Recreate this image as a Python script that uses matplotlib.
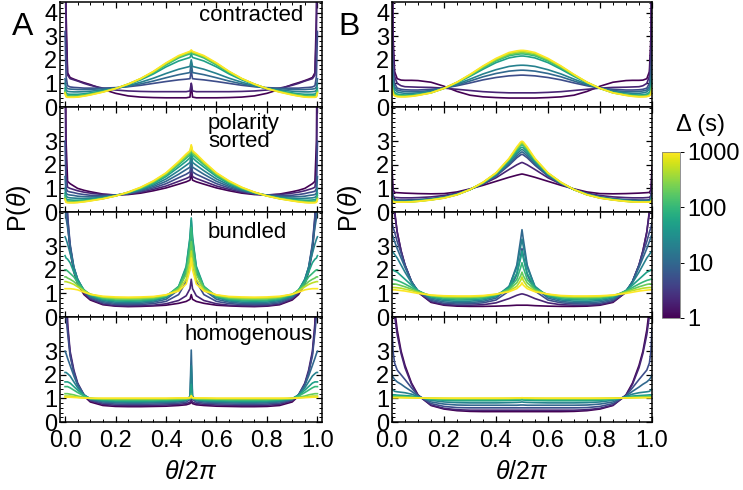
import numpy as np
import matplotlib
matplotlib.use('Agg')
import matplotlib.pyplot as plt
from matplotlib.colors import LogNorm
from matplotlib.cm import ScalarMappable
from matplotlib.ticker import MultipleLocator, FormatStrFormatter

plt.rcParams['font.family'] = ['Liberation Sans', 'DejaVu Sans']
plt.rcParams['mathtext.fontset'] = 'custom'
plt.rcParams['mathtext.rm'] = 'Liberation Sans'
plt.rcParams['mathtext.it'] = 'Liberation Sans:italic'

# lag times (s), one curve per value
delta = [1, 2, 5, 10, 20, 50, 100, 200, 500, 1000]

# theta/2pi from 0 to 0.5, curves are symmetric about 0.5
theta_half = [0.0, 0.004, 0.01, 0.02, 0.035, 0.05, 0.075, 0.1, 0.15, 0.2,
              0.25, 0.3, 0.35, 0.4, 0.45, 0.48, 0.495, 0.5]

# ---- column A ----
A_contracted = [
    [9, 4.0, 1.45, 1.25, 1.18, 1.12, 1.03, 0.95, 0.75, 0.58, 0.47, 0.42, 0.40, 0.39, 0.39, 0.39, 0.42, 1.0],
    [9, 3.2, 1.35, 1.2, 1.15, 1.1, 1.0, 0.92, 0.8, 0.72, 0.68, 0.66, 0.65, 0.65, 0.65, 0.65, 0.68, 1.0],
    [3.2, 1.3, 0.9, 0.85, 0.83, 0.82, 0.8, 0.8, 0.8, 0.82, 0.86, 0.92, 1.0, 1.08, 1.15, 1.18, 1.2, 1.55],
    [1.2, 0.85, 0.78, 0.76, 0.75, 0.74, 0.74, 0.75, 0.77, 0.8, 0.88, 0.98, 1.1, 1.24, 1.37, 1.43, 1.46, 1.9],
    [1.0, 0.72, 0.66, 0.65, 0.64, 0.64, 0.65, 0.67, 0.72, 0.78, 0.9, 1.05, 1.22, 1.42, 1.6, 1.68, 1.72, 2.0],
    [0.8, 0.6, 0.55, 0.54, 0.54, 0.54, 0.56, 0.6, 0.68, 0.78, 0.95, 1.15, 1.4, 1.7, 1.95, 2.05, 2.1, 2.25],
    [0.7, 0.52, 0.48, 0.47, 0.47, 0.48, 0.51, 0.55, 0.66, 0.78, 0.96, 1.18, 1.45, 1.78, 2.08, 2.2, 2.25, 2.3],
    [0.65, 0.48, 0.45, 0.44, 0.44, 0.45, 0.49, 0.54, 0.65, 0.78, 0.97, 1.2, 1.48, 1.82, 2.12, 2.25, 2.3, 2.35],
    [0.6, 0.45, 0.42, 0.42, 0.42, 0.43, 0.47, 0.52, 0.64, 0.78, 0.97, 1.2, 1.5, 1.85, 2.15, 2.28, 2.33, 2.38],
    [0.58, 0.43, 0.41, 0.41, 0.41, 0.42, 0.46, 0.51, 0.63, 0.78, 0.97, 1.21, 1.51, 1.87, 2.18, 2.3, 2.36, 2.42],
]
A_sorted = [
    [9, 3.0, 1.3, 1.2, 1.1, 1.0, 0.92, 0.86, 0.76, 0.72, 0.74, 0.8, 0.9, 1.02, 1.18, 1.28, 1.35, 1.6],
    [6, 1.6, 1.05, 1.0, 0.95, 0.9, 0.84, 0.8, 0.74, 0.72, 0.76, 0.84, 0.96, 1.1, 1.3, 1.42, 1.5, 1.9],
    [3, 1.0, 0.88, 0.85, 0.82, 0.78, 0.74, 0.71, 0.7, 0.72, 0.78, 0.88, 1.02, 1.2, 1.45, 1.6, 1.7, 2.1],
    [1.5, 0.8, 0.74, 0.72, 0.7, 0.67, 0.65, 0.64, 0.66, 0.71, 0.79, 0.92, 1.08, 1.3, 1.6, 1.8, 1.9, 2.3],
    [1.0, 0.68, 0.62, 0.6, 0.59, 0.58, 0.57, 0.58, 0.62, 0.7, 0.8, 0.95, 1.14, 1.4, 1.75, 1.98, 2.1, 2.5],
    [0.8, 0.56, 0.52, 0.51, 0.5, 0.5, 0.51, 0.53, 0.6, 0.69, 0.82, 0.98, 1.2, 1.5, 1.9, 2.15, 2.3, 2.6],
    [0.7, 0.5, 0.46, 0.45, 0.45, 0.46, 0.48, 0.5, 0.58, 0.69, 0.83, 1.0, 1.24, 1.56, 2.0, 2.28, 2.42, 2.7],
    [0.6, 0.46, 0.43, 0.42, 0.42, 0.43, 0.46, 0.49, 0.57, 0.68, 0.83, 1.02, 1.27, 1.6, 2.06, 2.36, 2.5, 2.75],
    [0.55, 0.43, 0.41, 0.4, 0.4, 0.41, 0.44, 0.48, 0.56, 0.68, 0.84, 1.04, 1.3, 1.64, 2.1, 2.42, 2.56, 2.8],
    [0.52, 0.41, 0.39, 0.39, 0.39, 0.4, 0.43, 0.47, 0.56, 0.68, 0.84, 1.05, 1.32, 1.66, 2.14, 2.46, 2.6, 2.85],
]
A_bundled = [
    [9, 6, 4.0, 2.8, 1.9, 1.4, 0.95, 0.72, 0.52, 0.46, 0.44, 0.45, 0.47, 0.5, 0.58, 0.66, 0.75, 0.95],
    [9, 6, 4.2, 3.0, 2.0, 1.5, 1.0, 0.76, 0.55, 0.48, 0.47, 0.48, 0.5, 0.56, 0.7, 0.9, 1.2, 1.6],
    [9, 5.5, 4.3, 3.1, 2.1, 1.55, 1.05, 0.8, 0.6, 0.53, 0.52, 0.53, 0.57, 0.66, 0.95, 1.5, 2.3, 3.0],
    [5, 4.2, 3.8, 3.0, 2.1, 1.6, 1.1, 0.85, 0.65, 0.58, 0.57, 0.58, 0.63, 0.75, 1.15, 1.9, 3.0, 3.8],
    [3.4, 3.3, 3.1, 2.7, 2.1, 1.6, 1.12, 0.88, 0.7, 0.63, 0.62, 0.63, 0.68, 0.82, 1.25, 2.1, 3.3, 4.1],
    [2.6, 2.5, 2.45, 2.3, 1.9, 1.55, 1.15, 0.92, 0.74, 0.68, 0.67, 0.68, 0.72, 0.86, 1.3, 2.15, 3.4, 4.2],
    [2.0, 2.0, 1.95, 1.85, 1.7, 1.45, 1.15, 0.95, 0.78, 0.72, 0.71, 0.72, 0.76, 0.88, 1.28, 2.0, 3.1, 3.8],
    [1.7, 1.7, 1.65, 1.6, 1.5, 1.35, 1.12, 0.96, 0.82, 0.77, 0.76, 0.77, 0.8, 0.9, 1.22, 1.8, 2.7, 3.2],
    [1.5, 1.5, 1.48, 1.45, 1.38, 1.28, 1.1, 0.97, 0.85, 0.81, 0.8, 0.81, 0.84, 0.93, 1.15, 1.6, 2.3, 2.8],
    [1.2, 1.2, 1.2, 1.2, 1.18, 1.15, 1.05, 0.96, 0.88, 0.85, 0.84, 0.85, 0.87, 0.94, 1.1, 1.4, 2.0, 2.5],
]
A_homogenous = [
    [9, 6, 4.0, 2.9, 2.1, 1.6, 1.1, 0.85, 0.7, 0.66, 0.65, 0.65, 0.66, 0.67, 0.7, 0.73, 0.78, 0.85],
    [9, 6, 4.2, 3.0, 2.2, 1.65, 1.15, 0.9, 0.75, 0.71, 0.7, 0.7, 0.71, 0.72, 0.75, 0.78, 0.84, 0.95],
    [9, 4.5, 3.8, 2.8, 2.1, 1.6, 1.15, 0.93, 0.8, 0.76, 0.75, 0.75, 0.76, 0.77, 0.8, 0.84, 0.95, 1.4],
    [3.0, 2.9, 2.7, 2.4, 1.95, 1.55, 1.15, 0.96, 0.85, 0.81, 0.8, 0.8, 0.81, 0.82, 0.85, 0.9, 1.1, 3.05],
    [2.1, 2.1, 2.05, 1.95, 1.7, 1.45, 1.15, 0.98, 0.88, 0.85, 0.84, 0.84, 0.85, 0.86, 0.89, 0.93, 1.05, 2.4],
    [1.7, 1.7, 1.7, 1.65, 1.5, 1.35, 1.12, 1.0, 0.92, 0.89, 0.88, 0.88, 0.89, 0.9, 0.92, 0.95, 1.02, 1.6],
    [1.5, 1.5, 1.5, 1.45, 1.35, 1.25, 1.1, 1.0, 0.95, 0.93, 0.92, 0.92, 0.93, 0.93, 0.95, 0.97, 1.0, 1.2],
    [1.2, 1.2, 1.2, 1.18, 1.15, 1.1, 1.05, 1.0, 0.97, 0.96, 0.96, 0.96, 0.96, 0.97, 0.98, 0.99, 1.0, 1.1],
    [1.1, 1.1, 1.1, 1.1, 1.08, 1.05, 1.02, 1.0, 0.99, 0.99, 0.99, 0.99, 0.99, 0.99, 1.0, 1.0, 1.02, 1.1],
    [1.05, 1.05, 1.05, 1.05, 1.04, 1.03, 1.02, 1.01, 1.01, 1.01, 1.01, 1.01, 1.01, 1.01, 1.02, 1.02, 1.03, 1.12],
]

# ---- column B ----
B_contracted = [
    [9, 3.0, 1.5, 1.2, 1.14, 1.13, 1.13, 1.12, 1.05, 0.88, 0.66, 0.5, 0.43, 0.4, 0.38, 0.38, 0.38, 0.38],
    [9, 2.5, 1.3, 1.0, 0.9, 0.86, 0.85, 0.84, 0.83, 0.8, 0.75, 0.7, 0.65, 0.62, 0.6, 0.6, 0.6, 0.6],
    [2.8, 1.6, 1.0, 0.8, 0.75, 0.73, 0.72, 0.72, 0.75, 0.8, 0.9, 1.02, 1.15, 1.25, 1.32, 1.34, 1.35, 1.35],
    [2.0, 1.2, 0.85, 0.72, 0.68, 0.66, 0.65, 0.65, 0.7, 0.8, 0.93, 1.1, 1.28, 1.42, 1.52, 1.55, 1.56, 1.56],
    [1.5, 1.0, 0.75, 0.64, 0.6, 0.58, 0.58, 0.6, 0.66, 0.8, 0.97, 1.18, 1.4, 1.58, 1.72, 1.76, 1.77, 1.77],
    [1.2, 0.8, 0.62, 0.55, 0.52, 0.51, 0.52, 0.54, 0.62, 0.79, 1.02, 1.3, 1.6, 1.88, 2.08, 2.14, 2.16, 2.16],
    [1.0, 0.7, 0.56, 0.5, 0.48, 0.48, 0.49, 0.52, 0.61, 0.79, 1.03, 1.33, 1.66, 1.95, 2.17, 2.23, 2.25, 2.25],
    [0.9, 0.62, 0.52, 0.47, 0.46, 0.46, 0.47, 0.51, 0.6, 0.79, 1.04, 1.35, 1.69, 1.99, 2.22, 2.28, 2.3, 2.3],
    [0.8, 0.57, 0.49, 0.45, 0.44, 0.44, 0.46, 0.5, 0.6, 0.79, 1.05, 1.37, 1.72, 2.03, 2.27, 2.33, 2.35, 2.35],
    [0.75, 0.54, 0.47, 0.44, 0.43, 0.43, 0.45, 0.49, 0.6, 0.79, 1.05, 1.38, 1.74, 2.06, 2.31, 2.38, 2.4, 2.4],
]
B_sorted = [
    [1.9, 0.95, 0.83, 0.82, 0.81, 0.8, 0.79, 0.78, 0.77, 0.78, 0.85, 0.98, 1.13, 1.3, 1.47, 1.56, 1.6, 1.61],
    [1.6, 0.7, 0.62, 0.61, 0.6, 0.6, 0.6, 0.61, 0.64, 0.7, 0.8, 0.96, 1.18, 1.45, 1.8, 2.0, 2.08, 2.1],
    [1.0, 0.55, 0.52, 0.51, 0.51, 0.51, 0.52, 0.53, 0.57, 0.65, 0.77, 0.95, 1.2, 1.52, 1.98, 2.3, 2.42, 2.45],
    [0.8, 0.5, 0.48, 0.47, 0.47, 0.47, 0.48, 0.5, 0.55, 0.63, 0.76, 0.95, 1.21, 1.55, 2.04, 2.38, 2.52, 2.55],
    [0.7, 0.48, 0.46, 0.45, 0.45, 0.45, 0.46, 0.48, 0.54, 0.62, 0.75, 0.95, 1.22, 1.58, 2.1, 2.47, 2.62, 2.65],
    [0.62, 0.46, 0.45, 0.44, 0.44, 0.44, 0.45, 0.47, 0.53, 0.61, 0.74, 0.95, 1.23, 1.61, 2.16, 2.56, 2.72, 2.75],
    [0.58, 0.45, 0.44, 0.43, 0.43, 0.43, 0.44, 0.46, 0.52, 0.6, 0.74, 0.95, 1.24, 1.63, 2.2, 2.64, 2.82, 2.85],
    [0.55, 0.44, 0.43, 0.43, 0.43, 0.43, 0.44, 0.46, 0.52, 0.6, 0.73, 0.95, 1.25, 1.64, 2.23, 2.68, 2.87, 2.9],
    [0.52, 0.44, 0.43, 0.42, 0.42, 0.42, 0.43, 0.45, 0.51, 0.59, 0.73, 0.95, 1.25, 1.65, 2.25, 2.72, 2.92, 2.95],
    [0.5, 0.43, 0.42, 0.42, 0.42, 0.42, 0.43, 0.45, 0.51, 0.59, 0.73, 0.95, 1.26, 1.66, 2.27, 2.76, 2.97, 3.0],
]
B_bundled = [
    [9, 6, 4.5, 3.6, 2.8, 2.2, 1.5, 1.05, 0.62, 0.5, 0.46, 0.45, 0.45, 0.46, 0.48, 0.5, 0.5, 0.5],
    [9, 6, 4.4, 3.6, 2.8, 2.2, 1.5, 1.05, 0.65, 0.53, 0.5, 0.5, 0.52, 0.6, 0.78, 0.92, 0.97, 0.98],
    [4.0, 3.8, 3.6, 3.2, 2.7, 2.2, 1.5, 1.08, 0.7, 0.58, 0.55, 0.56, 0.6, 0.72, 1.1, 1.8, 2.6, 2.9],
    [3.5, 3.4, 3.2, 2.9, 2.5, 2.1, 1.5, 1.1, 0.75, 0.64, 0.6, 0.61, 0.66, 0.8, 1.25, 2.2, 3.3, 3.7],
    [2.8, 2.75, 2.65, 2.5, 2.2, 1.9, 1.45, 1.12, 0.8, 0.7, 0.66, 0.67, 0.72, 0.86, 1.3, 2.1, 3.0, 3.3],
    [2.0, 2.0, 1.95, 1.9, 1.75, 1.6, 1.35, 1.12, 0.85, 0.75, 0.72, 0.73, 0.77, 0.9, 1.25, 1.85, 2.5, 2.8],
    [1.6, 1.6, 1.58, 1.55, 1.48, 1.4, 1.25, 1.1, 0.88, 0.8, 0.77, 0.78, 0.82, 0.93, 1.2, 1.6, 2.1, 2.3],
    [1.4, 1.4, 1.4, 1.38, 1.33, 1.28, 1.18, 1.07, 0.9, 0.84, 0.82, 0.83, 0.86, 0.95, 1.15, 1.45, 1.75, 1.9],
    [1.25, 1.25, 1.25, 1.24, 1.22, 1.18, 1.12, 1.04, 0.92, 0.87, 0.86, 0.86, 0.88, 0.96, 1.1, 1.3, 1.55, 1.7],
    [1.15, 1.15, 1.15, 1.14, 1.12, 1.1, 1.05, 1.0, 0.93, 0.9, 0.89, 0.89, 0.91, 0.97, 1.07, 1.2, 1.35, 1.45],
]
B_homogenous = [
    [9, 6, 4.8, 3.9, 3.0, 2.4, 1.65, 1.15, 0.7, 0.55, 0.48, 0.45, 0.44, 0.44, 0.44, 0.44, 0.44, 0.44],
    [9, 5.5, 4.5, 3.7, 2.9, 2.3, 1.6, 1.12, 0.72, 0.58, 0.52, 0.5, 0.5, 0.5, 0.5, 0.5, 0.5, 0.5],
    [4.0, 3.0, 2.5, 2.2, 2.0, 1.8, 1.45, 1.12, 0.78, 0.66, 0.61, 0.6, 0.6, 0.6, 0.6, 0.6, 0.6, 0.6],
    [2.0, 1.9, 1.8, 1.7, 1.6, 1.48, 1.3, 1.1, 0.85, 0.76, 0.72, 0.71, 0.71, 0.71, 0.71, 0.71, 0.72, 0.72],
    [1.4, 1.35, 1.3, 1.28, 1.26, 1.24, 1.18, 1.08, 0.92, 0.85, 0.82, 0.81, 0.81, 0.81, 0.82, 0.83, 0.84, 0.85],
    [1.15, 1.15, 1.15, 1.14, 1.13, 1.12, 1.1, 1.05, 0.96, 0.92, 0.9, 0.9, 0.9, 0.9, 0.91, 0.92, 0.93, 0.94],
    [1.1, 1.1, 1.1, 1.09, 1.08, 1.07, 1.06, 1.03, 0.98, 0.96, 0.95, 0.95, 0.95, 0.95, 0.96, 0.97, 0.98, 0.99],
    [1.06, 1.06, 1.06, 1.06, 1.05, 1.05, 1.04, 1.02, 1.0, 0.99, 0.98, 0.98, 0.98, 0.98, 0.99, 0.99, 1.0, 1.01],
    [1.04, 1.04, 1.04, 1.04, 1.04, 1.03, 1.03, 1.02, 1.01, 1.0, 1.0, 1.0, 1.0, 1.0, 1.0, 1.01, 1.01, 1.02],
    [1.03, 1.03, 1.03, 1.03, 1.03, 1.03, 1.02, 1.02, 1.01, 1.01, 1.01, 1.01, 1.01, 1.01, 1.01, 1.02, 1.02, 1.03],
]

panel_names = ['contracted', 'polarity\nsorted', 'bundled', 'homogenous']
colA = [A_contracted, A_sorted, A_bundled, A_homogenous]
colB = [B_contracted, B_sorted, B_bundled, B_homogenous]


def mirror(vals):
    # the distribution is symmetric in theta <-> 2pi - theta
    return list(vals) + list(vals[::-1][1:])


theta_full = theta_half + [1 - t for t in theta_half[::-1][1:]]

norm = LogNorm(vmin=1, vmax=1000)
cmap = plt.cm.viridis

W, H = 743.0, 490.0
fig = plt.figure(figsize=(W / 100, H / 100), dpi=100)

row_tops = [2, 107, 212, 317]
row_h = 105
col_x = [(60, 322), (392, 652)]
xlims = [(-0.02, 1.018), (0.0, 1.0)]

# label positions inside each panel (axes fraction), per row
name_pos = [(0.927, 0.876, 'right', 'center'),
            (0.565, 0.945, 'left', 'top'),
            (0.565, 0.80, 'left', 'center'),
            (0.477, 0.83, 'left', 'center')]

for ci, col in enumerate([colA, colB]):
    x0, x1 = col_x[ci]
    for ri, curves in enumerate(col):
        top = row_tops[ri]
        ax = fig.add_axes([x0 / W, 1 - (top + row_h) / H, (x1 - x0) / W, row_h / H])
        for d, vals in zip(delta, curves):
            ax.plot(theta_full, mirror(vals), color=cmap(norm(d)), lw=1.2)
        ax.set_xlim(*xlims[ci])
        ax.set_ylim(0, 4.45)
        ax.xaxis.set_major_locator(MultipleLocator(0.2))
        ax.xaxis.set_minor_locator(MultipleLocator(0.05))
        ax.xaxis.set_major_formatter(FormatStrFormatter('%.1f'))
        if ri == 0:
            ax.set_yticks([0, 1, 2, 3, 4])
        else:
            ax.set_yticks([0, 1, 2, 3])
        ax.yaxis.set_minor_locator(MultipleLocator(0.2))
        ax.tick_params(which='both', direction='in', top=True, right=True,
                       labelsize=17, pad=2)
        ax.tick_params(which='major', length=4, width=0.9)
        ax.tick_params(which='minor', length=2, width=0.7)
        ax.tick_params(axis='x', pad=6)
        for s in ax.spines.values():
            s.set_linewidth(1.1)
        if ri < 3:
            ax.tick_params(labelbottom=False)
        if ci == 0:
            px, py, ha, va = name_pos[ri]
            ax.text(px, py, panel_names[ri], transform=ax.transAxes,
                    ha=ha, va=va, fontsize=16, linespacing=0.85)

# column letters and shared axis labels
fig.text(23 / W, 1 - 27 / H, 'A', fontsize=23, ha='center', va='center')
fig.text(349 / W, 1 - 27 / H, 'B', fontsize=23, ha='center', va='center')
fig.text(19 / W, 1 - 208 / H, r'P($\theta$)', fontsize=18, rotation=90,
         ha='center', va='center')
fig.text(350 / W, 1 - 208 / H, r'P($\theta$)', fontsize=18, rotation=90,
         ha='center', va='center')
fig.text(191 / W, 1 - 472 / H, r'$\theta$/2$\pi$', fontsize=18,
         ha='center', va='center')
fig.text(522 / W, 1 - 472 / H, r'$\theta$/2$\pi$', fontsize=18,
         ha='center', va='center')

# colorbar
cax = fig.add_axes([662 / W, 1 - 318 / H, 18 / W, 166 / H])
sm = ScalarMappable(norm=norm, cmap=cmap)
cb = fig.colorbar(sm, cax=cax)
cb.set_ticks([1, 10, 100, 1000])
cb.set_ticklabels(['1', '10', '100', '1000'])
cb.ax.tick_params(labelsize=17, length=3, width=0.7, pad=2)
cb.ax.tick_params(which='minor', length=0)
cb.outline.set_linewidth(0.6)
cb.outline.set_edgecolor('0.5')
fig.text(700 / W, 1 - 125 / H, 'Δ (s)', fontsize=17, ha='center', va='center')

fig.savefig('out.png', dpi=100)
